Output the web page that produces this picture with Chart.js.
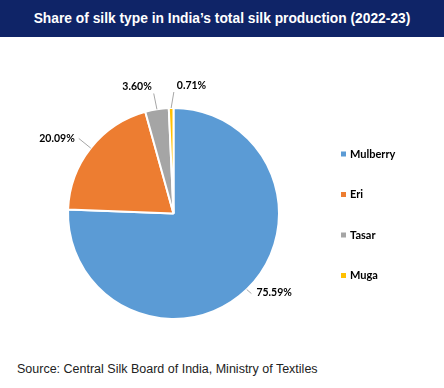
<!DOCTYPE html>
<html>
<head>
<meta charset="utf-8">
<script src="https://cdn.jsdelivr.net/npm/chart.js@4"></script>
<style>
  html, body { margin: 0; padding: 0; background: #fff; }
  body { width: 444px; height: 388px; position: relative; overflow: hidden; }
  .header {
    position: absolute; left: 0; top: 0; width: 444px; height: 37px;
    background: #0f2467; color: #fff;
    font: bold 13.8px "Liberation Sans", Arial, sans-serif;
    text-align: center; line-height: 38px;
  }
  .chart-box { position: absolute; left: 0; top: 37px; width: 444px; height: 313px; }
  .source {
    position: absolute; left: 17px; top: 362px;
    font: 12.5px "Liberation Sans", Arial, sans-serif; color: #222;
  }
</style>
</head>
<body>
<div class="header">Share of silk type in India’s total silk production (2022-23)</div>
<div class="chart-box"><canvas id="silkChart"></canvas></div>
<div class="source">Source: Central Silk Board of India, Ministry of Textiles</div>

<script>
const silkTypes = ["Mulberry", "Eri", "Tasar", "Muga"];
const silkShare = [75.59, 20.09, 3.60, 0.71];
const shareLabels = ["75.59%", "20.09%", "3.60%", "0.71%"];
const sliceColors = ["#5b9bd5", "#ed7d31", "#a5a5a5", "#ffc000"];

/* ================= LABELS + LEADER LINES ================= */
// leader end = point just outside slice middle + nudge; text placed from there
const labelNudge = [[-5, -6], [-1, -1], [-1, -2], [3, -2]];
const textOffset = [[5, -1], [-4, 0], [-2, -7], [3, -6]];
const textAlign = ["left", "right", "right", "left"];

const outsideLabels = {
    id: "outsideLabels",
    afterDatasetsDraw(chart) {
        const ctx = chart.ctx;
        const arcs = chart.getDatasetMeta(0).data;
        ctx.save();
        ctx.font = "bold 10.5px Lato, sans-serif";
        ctx.textBaseline = "middle";
        arcs.forEach((arc, i) => {
            const p = arc.getProps(["x", "y", "startAngle", "endAngle", "outerRadius"], true);
            const mid = (p.startAngle + p.endAngle) / 2;
            const cos = Math.cos(mid), sin = Math.sin(mid);
            const ex = p.x + cos * p.outerRadius;
            const ey = p.y + sin * p.outerRadius;
            const lx = p.x + cos * (p.outerRadius + 14) + labelNudge[i][0];
            const ly = p.y + sin * (p.outerRadius + 14) + labelNudge[i][1];

            ctx.strokeStyle = "#a6a6a6";
            ctx.lineWidth = 1;
            ctx.beginPath();
            ctx.moveTo(ex, ey);
            ctx.lineTo(lx, ly);
            ctx.stroke();

            ctx.fillStyle = "#000";
            ctx.textAlign = textAlign[i];
            ctx.fillText(shareLabels[i], lx + textOffset[i][0], ly + textOffset[i][1]);
        });
        ctx.restore();
    }
};

/* ================= LEGEND ================= */
const legendTop = 117;
const legendStep = 40.5;

const sideLegend = {
    id: "sideLegend",
    afterDraw(chart) {
        const ctx = chart.ctx;
        ctx.save();
        ctx.font = "bold 11px Lato, sans-serif";
        ctx.textBaseline = "middle";
        silkTypes.forEach((name, i) => {
            const y = legendTop + i * legendStep;
            ctx.fillStyle = sliceColors[i];
            ctx.fillRect(341, y - 2.5, 5, 5);
            ctx.fillStyle = "#000";
            ctx.fillText(name, 350, y);
        });
        ctx.restore();
    }
};

new Chart(document.getElementById("silkChart"), {
    type: "pie",
    data: {
        labels: silkTypes,
        datasets: [{
            data: silkShare,
            backgroundColor: sliceColors,
            borderColor: "#fff",
            borderWidth: 2
        }]
    },
    options: {
        responsive: true,
        maintainAspectRatio: false,
        animation: false,
        layout: { padding: { top: 70, bottom: 30, left: 67, right: 164 } },
        plugins: {
            legend: { display: false },
            tooltip: { enabled: false }
        }
    },
    plugins: [outsideLabels, sideLegend]
});
</script>
</body>
</html>
